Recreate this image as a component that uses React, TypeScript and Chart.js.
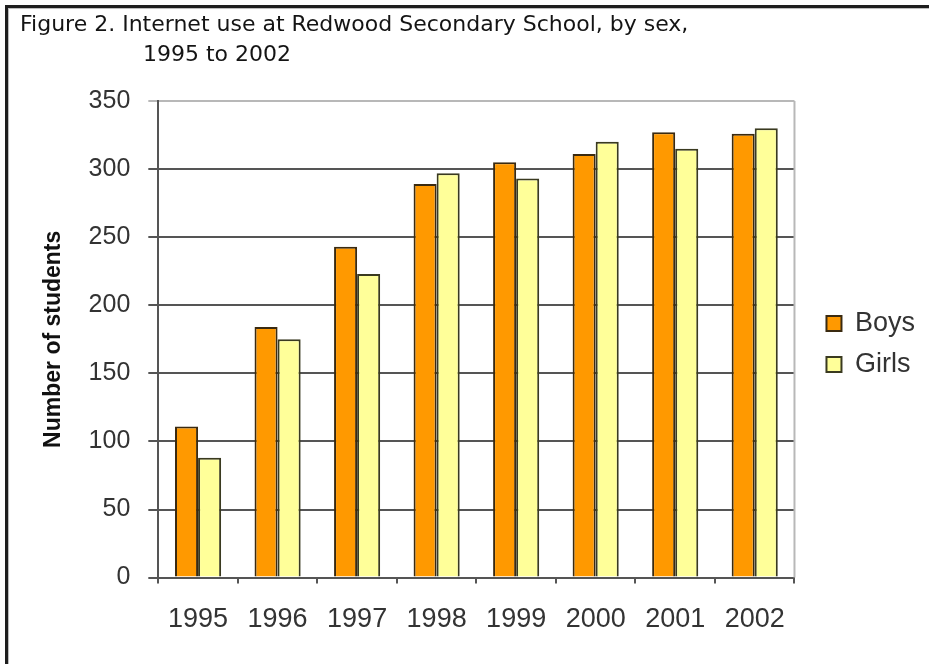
import React, { useEffect, useRef } from "react";
import { Chart, registerables } from "chart.js";

Chart.register(...registerables);

const categories = ["1995", "1996", "1997", "1998", "1999", "2000", "2001", "2002"];
const boys = [111, 184, 243, 289, 305, 311, 327, 326];
const girls = [88, 175, 223, 297, 293, 320, 315, 330];
const yMin = 0;
const yMax = 350;
const yStep = 50;
const titleLine1 = "Figure 2. Internet use at Redwood Secondary School, by sex,";
const titleLine2 = "1995 to 2002";
const yAxisTitle = "Number of students";

const LEGEND_PAD = 14;

const framePlugin = {
  id: "framePlugin",
  afterLayout(chart: any) {
    const lg = chart.legend;
    const ca = chart.chartArea;
    if (!lg || !ca) return;
    const dx = ca.right + 32 - LEGEND_PAD - lg.left;
    lg.left += dx;
    lg.right += dx;
    const dy = 344 - (lg.top + lg.bottom) / 2;
    lg.top += dy;
    lg.bottom += dy;
  },
  beforeDraw(chart: any) {
    const ctx = chart.ctx;
    ctx.save();
    ctx.fillStyle = "#ffffff";
    ctx.fillRect(0, 0, chart.width, chart.height);
    ctx.fillStyle = "#1e1e1e";
    ctx.fillRect(5, 5, chart.width - 5, 3);
    ctx.fillRect(5, 5, 3, chart.height - 5);
    ctx.fillStyle = "#bdbdbd";
    ctx.fillRect(8, 8, chart.width - 8, 1);
    ctx.fillRect(8, 8, 1, chart.height - 8);
    // title
    ctx.fillStyle = "#141414";
    ctx.font = "22px 'DejaVu Sans', Verdana, sans-serif";
    ctx.textBaseline = "alphabetic";
    ctx.textAlign = "left";
    ctx.fillText(titleLine1, 20, 31);
    ctx.fillText(titleLine2, 143, 61);
    ctx.restore();
  },
  afterDatasetsDraw(chart: any) {
    const { ctx, chartArea } = chart;
    ctx.save();
    ctx.strokeStyle = "#b8b8b8";
    ctx.lineWidth = 2;
    ctx.beginPath();
    ctx.moveTo(chartArea.right, chartArea.top);
    ctx.lineTo(chartArea.right, chartArea.bottom);
    ctx.stroke();
    ctx.restore();
  },
};

export default function App() {
  const ref = useRef<HTMLCanvasElement | null>(null);
  useEffect(() => {
    if (!ref.current) return;
    const chart = new Chart(ref.current, {
      type: "bar",
      data: {
        labels: categories,
        datasets: [
          {
            label: "Boys",
            data: boys,
            backgroundColor: "#ff9900",
            borderColor: "#3a2a10",
            borderWidth: 2,
            categoryPercentage: 0.58,
            barPercentage: 1,
          },
          {
            label: "Girls",
            data: girls,
            backgroundColor: "#ffff99",
            borderColor: "#3a3a20",
            borderWidth: 2,
            categoryPercentage: 0.58,
            barPercentage: 1,
          },
        ],
      },
      options: {
        responsive: false,
        animation: false,
        layout: { padding: { top: 101, left: 40, right: 22, bottom: 8 } },
        plugins: {
          title: { display: false },
          tooltip: { enabled: false },
          legend: {
            display: true,
            position: "right",
            labels: {
              color: "#333333",
              font: { family: "'Liberation Sans', Arial, sans-serif", size: 27 },
              boxWidth: 15,
              boxHeight: 15,
              padding: LEGEND_PAD,
            },
          },
        },
        scales: {
          x: {
            grid: {
              display: true,
              drawOnChartArea: false,
              drawTicks: true,
              tickLength: 6,
              color: "#555555",
              lineWidth: 2,
              offset: true,
            },
            border: { display: true, color: "#555555", width: 2 },
            ticks: {
              color: "#333333",
              font: { family: "'Liberation Sans', Arial, sans-serif", size: 27 },
              padding: 20,
              maxRotation: 0,
            },
          },
          y: {
            min: yMin,
            max: yMax,
            ticks: {
              stepSize: yStep,
              color: "#333333",
              font: { family: "'Liberation Sans', Arial, sans-serif", size: 25 },
              padding: 18,
            },
            grid: {
              drawTicks: true,
              tickLength: 10,
              lineWidth: 2,
              color: (c: any) => (c.tick && c.tick.value === yMax ? "#b8b8b8" : "#555555"),
            },
            border: { display: true, color: "#555555", width: 2 },
            title: {
              display: true,
              text: yAxisTitle,
              color: "#111111",
              font: { family: "'Liberation Sans', Arial, sans-serif", size: 23, weight: "bold" },
              padding: { top: 0, bottom: 3 },
            },
          },
        },
      },
      plugins: [framePlugin],
    });
    return () => chart.destroy();
  }, []);
  return (
    <div style={{ position: "absolute", left: 0, top: 0, width: 929, height: 664, background: "#fff" }}>
      <canvas ref={ref} width={929} height={664} style={{ display: "block" }} />
    </div>
  );
}
